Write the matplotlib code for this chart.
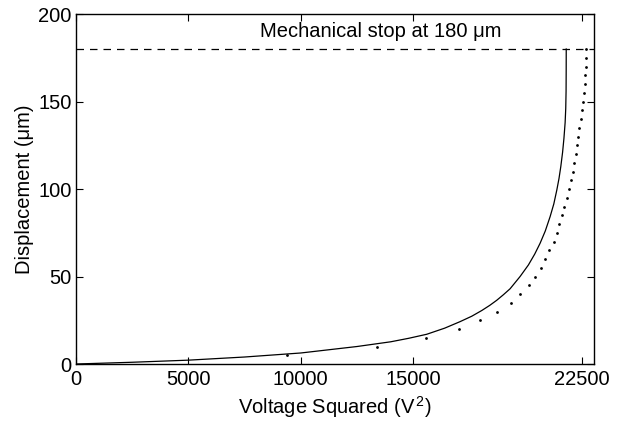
import matplotlib
matplotlib.use('Agg')
from matplotlib import pyplot as plt

plt.rcParams['font.family'] = ['Liberation Sans', 'DejaVu Sans']
plt.rcParams['mathtext.fontset'] = 'custom'
plt.rcParams['mathtext.rm'] = 'Liberation Sans'
plt.rcParams['mathtext.it'] = 'Liberation Sans'

# model curve (solid)
model_v2 = [0, 2500, 5000, 7500, 10000, 12500, 14000, 14800, 15600, 16400, 17080,
            17600, 18050, 18400, 18710, 19000, 19306, 19750, 20120, 20400, 20640,
            20870, 21085, 21250, 21383, 21480, 21560, 21640, 21700, 21753, 21780,
            21795, 21800, 21802]
model_disp = [0, 1.0, 2.2, 4.0, 6.3, 10.0, 12.7, 14.7, 17.0, 20.5, 24.2,
              27.3, 30.6, 33.5, 36.4, 39.5, 43.0, 50.0, 56.6, 62.8, 69.0,
              76.0, 84.2, 91.5, 99.4, 106.0, 112.8, 121.0, 129.0, 138.0, 146.0,
              156.0, 168.0, 180.0]

# simulation points (dotted)
sim_disp = list(range(5, 185, 5))
sim_v2 = [9400, 13370, 15580, 17020, 17970, 18740, 19330, 19750, 20150, 20430,
          20670, 20877, 21056, 21250, 21383, 21500, 21620, 21708, 21828, 21930,
          22005, 22093, 22167, 22242, 22301, 22346, 22390, 22450, 22494, 22539,
          22598, 22627, 22657, 22672, 22687, 22690]

stop_level = 180
xticks = [0, 5000, 10000, 15000, 22500]
yticks = [0, 50, 100, 150, 200]

fig = plt.figure(figsize=(6.32, 4.25), dpi=100)
ax = fig.add_axes([0.120, 0.1435, 0.820, 0.8235])

ax.plot(model_v2, model_disp, color='black', linewidth=0.9)
ax.plot(sim_v2, sim_disp, linestyle='none', marker='o', markersize=2.0,
        color='black', markeredgewidth=0)
ax.axhline(stop_level, color='black', linestyle=(0, (6, 4.8)), linewidth=0.9)
ax.text(13570, 190, 'Mechanical stop at 180 μm', ha='center', va='center', fontsize=14.5)

ax.set_xlim(0, 23040)
ax.set_ylim(0, 200)
ax.set_xticks(xticks)
ax.set_xticklabels([str(t) for t in xticks])
ax.set_yticks(yticks)
ax.tick_params(direction='in', top=True, right=True, length=5, width=0.8,
               labelsize=14.5, pad=3)
ax.tick_params(axis='x', pad=4)
for s in ax.spines.values():
    s.set_linewidth(1.0)

ax.set_xlabel(r'Voltage Squared (V$^{\,2}$)', fontsize=14.5, labelpad=4)
ax.set_ylabel('Displacement (μm)', fontsize=14.5, labelpad=3)

fig.savefig('out.png', dpi=100, facecolor='white')
